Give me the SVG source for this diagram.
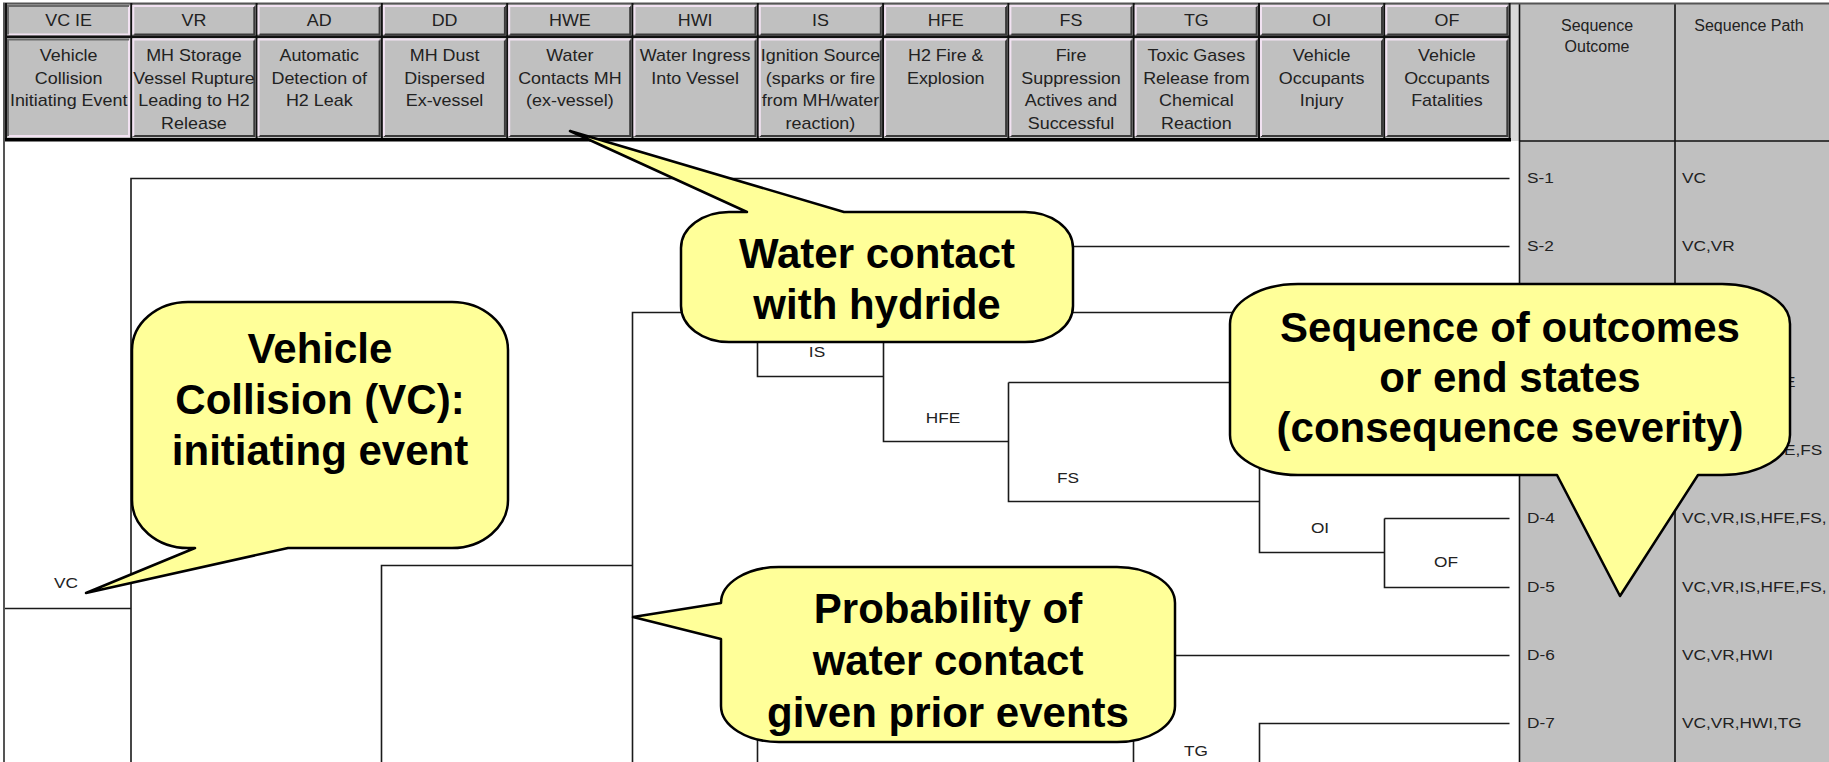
<svg xmlns="http://www.w3.org/2000/svg" xmlns:xlink="http://www.w3.org/1999/xlink" width="1829" height="762" viewBox="0 0 1829 762">
<defs>
<style>
.hdr{font-family:"Liberation Sans",Arial,sans-serif;font-size:16px;fill:#222;text-anchor:middle}
.sm{font-family:"Liberation Sans",Arial,sans-serif;font-size:15px;fill:#222}
.mid{text-anchor:middle}
.co{fill:#ffff99;stroke:#000;stroke-width:2.5;stroke-linejoin:round}
.ct{font-family:"Liberation Sans",Arial,sans-serif;font-size:42px;font-weight:bold;fill:#000;text-anchor:middle}
.br{fill:none;stroke:#1a1a1a;stroke-width:1.6}
.hl{fill:none;stroke:#f2e2f2;stroke-width:2}
.sh{fill:none;stroke:#3a3a3a;stroke-width:2}
.dk{fill:none;stroke:#6a6a6a;stroke-width:2}
.lt{fill:none;stroke:#f2e2f2;stroke-width:2}
.sep{fill:#111}
</style>
<g id="cellbev">
<rect class="sep" x="-1" y="3" width="2" height="137"/>
<path class="sh" d="M2,34.5 H123 V6"/>
<path class="hl" d="M2,34.5 V6 H123"/>
<rect class="sep" x="0" y="35.5" width="125.3" height="2.5"/>
<path class="sh" d="M2,136 H123 V39.5"/>
<path class="hl" d="M2,136 V39.5 H123"/>
</g>
<g id="cellinv">
<rect class="sep" x="-1" y="3" width="2" height="137"/>
<path class="lt" d="M2,34.5 H123 V6"/>
<path class="dk" d="M2,34.5 V6 H123"/>
<rect class="sep" x="0" y="35.5" width="125.3" height="2.5"/>
<path class="lt" d="M2,136 H123 V39.5"/>
<path class="dk" d="M2,136 V39.5 H123"/>
</g>
</defs>

<rect x="0" y="0" width="1829" height="762" fill="#ffffff"/>

<!-- right table -->
<g id="table">
<rect x="1519" y="3" width="310" height="759" fill="#c0c0c0"/>
<rect x="1510" y="3" width="9" height="138" fill="#d8d8d8"/>
<line x1="1519.5" y1="3" x2="1519.5" y2="762" stroke="#111" stroke-width="1.6"/>
<line x1="1675" y1="3" x2="1675" y2="762" stroke="#111" stroke-width="1.6"/>
<line x1="1519" y1="141" x2="1829" y2="141" stroke="#111" stroke-width="1.6"/>
<text class="hdr" x="1597" y="31">Sequence</text>
<text class="hdr" x="1597" y="52">Outcome</text>
<text class="hdr" x="1749" y="31">Sequence Path</text>
<g transform="translate(1527,0) scale(1.15,1)">
<text class="sm" x="0" y="183.5">S-1</text>
<text class="sm" x="0" y="251.5">S-2</text>
<text class="sm" x="0" y="523.5">D-4</text>
<text class="sm" x="0" y="592.5">D-5</text>
<text class="sm" x="0" y="660.5">D-6</text>
<text class="sm" x="0" y="728.5">D-7</text>
</g>
<g transform="translate(1682,0) scale(1.15,1)">
<text class="sm" x="0" y="183.5">VC</text>
<text class="sm" x="0" y="251.5">VC,VR</text>
<text class="sm" x="0" y="523.5">VC,VR,IS,HFE,FS,</text>
<text class="sm" x="0" y="592.5">VC,VR,IS,HFE,FS,</text>
<text class="sm" x="0" y="660.5">VC,VR,HWI</text>
<text class="sm" x="0" y="728.5">VC,VR,HWI,TG</text>
</g>
<g transform="translate(1784,0) scale(1.15,1)">
<text class="sm" x="0" y="387.5">E</text>
<text class="sm" x="0" y="455.5">E,FS</text>
</g>
</g>

<!-- header -->
<g id="header">
<rect x="3" y="3" width="1507" height="137" fill="#c0c0c0"/>
<line x1="3" y1="3.5" x2="1829" y2="3.5" stroke="#555" stroke-width="2"/>
<g id="col-VCIE"><use xlink:href="#cellinv" x="6"/>
<g transform="translate(68.65,0) scale(1.12,1)"><text class="hdr" y="26.5">VC IE</text><text class="hdr" y="61.5">Vehicle</text><text class="hdr" y="84">Collision</text><text class="hdr" y="106.5">Initiating Event</text></g></g>
<g id="col-VR"><use xlink:href="#cellbev" x="131.3"/>
<g transform="translate(193.95,0) scale(1.12,1)"><text class="hdr" y="26.5">VR</text><text class="hdr" y="61.5">MH Storage</text><text class="hdr" y="84">Vessel Rupture</text><text class="hdr" y="106.5">Leading to H2</text><text class="hdr" y="129">Release</text></g></g>
<g id="col-AD"><use xlink:href="#cellbev" x="256.6"/>
<g transform="translate(319.25,0) scale(1.12,1)"><text class="hdr" y="26.5">AD</text><text class="hdr" y="61.5">Automatic</text><text class="hdr" y="84">Detection of</text><text class="hdr" y="106.5">H2 Leak</text></g></g>
<g id="col-DD"><use xlink:href="#cellbev" x="381.9"/>
<g transform="translate(444.55,0) scale(1.12,1)"><text class="hdr" y="26.5">DD</text><text class="hdr" y="61.5">MH Dust</text><text class="hdr" y="84">Dispersed</text><text class="hdr" y="106.5">Ex-vessel</text></g></g>
<g id="col-HWE"><use xlink:href="#cellbev" x="507.2"/>
<g transform="translate(569.85,0) scale(1.12,1)"><text class="hdr" y="26.5">HWE</text><text class="hdr" y="61.5">Water</text><text class="hdr" y="84">Contacts MH</text><text class="hdr" y="106.5">(ex-vessel)</text></g></g>
<g id="col-HWI"><use xlink:href="#cellbev" x="632.5"/>
<g transform="translate(695.15,0) scale(1.12,1)"><text class="hdr" y="26.5">HWI</text><text class="hdr" y="61.5">Water Ingress</text><text class="hdr" y="84">Into Vessel</text></g></g>
<g id="col-IS"><use xlink:href="#cellbev" x="757.8"/>
<g transform="translate(820.45,0) scale(1.12,1)"><text class="hdr" y="26.5">IS</text><text class="hdr" y="61.5">Ignition Source</text><text class="hdr" y="84">(sparks or fire</text><text class="hdr" y="106.5">from MH/water</text><text class="hdr" y="129">reaction)</text></g></g>
<g id="col-HFE"><use xlink:href="#cellbev" x="883.1"/>
<g transform="translate(945.75,0) scale(1.12,1)"><text class="hdr" y="26.5">HFE</text><text class="hdr" y="61.5">H2 Fire &amp;</text><text class="hdr" y="84">Explosion</text></g></g>
<g id="col-FS"><use xlink:href="#cellbev" x="1008.4"/>
<g transform="translate(1071.05,0) scale(1.12,1)"><text class="hdr" y="26.5">FS</text><text class="hdr" y="61.5">Fire</text><text class="hdr" y="84">Suppression</text><text class="hdr" y="106.5">Actives and</text><text class="hdr" y="129">Successful</text></g></g>
<g id="col-TG"><use xlink:href="#cellbev" x="1133.7"/>
<g transform="translate(1196.35,0) scale(1.12,1)"><text class="hdr" y="26.5">TG</text><text class="hdr" y="61.5">Toxic Gases</text><text class="hdr" y="84">Release from</text><text class="hdr" y="106.5">Chemical</text><text class="hdr" y="129">Reaction</text></g></g>
<g id="col-OI"><use xlink:href="#cellbev" x="1259"/>
<g transform="translate(1321.65,0) scale(1.12,1)"><text class="hdr" y="26.5">OI</text><text class="hdr" y="61.5">Vehicle</text><text class="hdr" y="84">Occupants</text><text class="hdr" y="106.5">Injury</text></g></g>
<g id="col-OF"><use xlink:href="#cellbev" x="1384.3"/>
<g transform="translate(1446.95,0) scale(1.12,1)"><text class="hdr" y="26.5">OF</text><text class="hdr" y="61.5">Vehicle</text><text class="hdr" y="84">Occupants</text><text class="hdr" y="106.5">Fatalities</text></g></g>
<rect class="sep" x="1508.6" y="3" width="2" height="137"/>
<rect x="3" y="138" width="1508" height="3.5" fill="#000"/>
<line x1="4" y1="3" x2="4" y2="762" stroke="#555" stroke-width="2"/>
</g>

<!-- event tree connectors -->
<g id="connectors" class="br">
<path d="M5,608.5 H131"/>
<path d="M131,762 V178.5 H1509.5"/>
<path d="M381.5,762 V565.5 H632.5"/>
<path d="M632.5,762 V312.5 H757.5"/>
<path d="M757.5,246.5 V376.5 H883.5"/>
<path d="M757.5,246.5 H1509.5"/>
<path d="M883.5,312.5 V441.5 H1008.5"/>
<path d="M883.5,312.5 H1509.5"/>
<path d="M1008.5,382.5 V501.5 H1259.5"/>
<path d="M1008.5,382.5 H1509.5"/>
<path d="M1259.5,450.5 V552.5 H1384.5"/>
<path d="M1259.5,450.5 H1509.5"/>
<path d="M1384.5,518.5 V587.5 H1509.5"/>
<path d="M1384.5,518.5 H1509.5"/>
<path d="M757.5,762 V715.5 H1133.5"/>
<path d="M1133.5,762 V655.5 H1509.5"/>
<path d="M1259.5,762 V723.5 H1509.5"/>
</g>

<!-- branch labels -->
<g id="labels">
<g transform="translate(66,0) scale(1.15,1)"><text class="sm mid" y="588.5">VC</text></g>
<g transform="translate(817,0) scale(1.15,1)"><text class="sm mid" y="357.5">IS</text></g>
<g transform="translate(943,0) scale(1.15,1)"><text class="sm mid" y="423.5">HFE</text></g>
<g transform="translate(1068,0) scale(1.15,1)"><text class="sm mid" y="483.5">FS</text></g>
<g transform="translate(1320,0) scale(1.15,1)"><text class="sm mid" y="533.5">OI</text></g>
<g transform="translate(1446,0) scale(1.15,1)"><text class="sm mid" y="567.5">OF</text></g>
<g transform="translate(1196,0) scale(1.15,1)"><text class="sm mid" y="756.5">TG</text></g>
</g>

<!-- callouts -->
<g id="callout-vc">
<path class="co" d="M188,302 H452 A56,48 0 0 1 508,350 V500 A56,48 0 0 1 452,548 H288 L86,593 L195,548 H188 A56,48 0 0 1 132,500 V350 A56,48 0 0 1 188,302 Z"/>
<text class="ct" x="320" y="363">Vehicle</text>
<text class="ct" x="320" y="414">Collision (VC):</text>
<text class="ct" x="320" y="465">initiating event</text>
</g>
<g id="callout-water">
<path class="co" d="M729,212 H747 L570,131 L844,212 H1025 A48,36 0 0 1 1073,248 V306 A48,36 0 0 1 1025,342 H729 A48,36 0 0 1 681,306 V248 A48,36 0 0 1 729,212 Z"/>
<text class="ct" x="877" y="268">Water contact</text>
<text class="ct" x="877" y="319">with hydride</text>
</g>
<g id="callout-seq">
<path class="co" d="M1298,284 H1722 A68,40 0 0 1 1790,324 V435 A68,40 0 0 1 1722,475 H1698 L1620,596 L1557,475 H1298 A68,40 0 0 1 1230,435 V324 A68,40 0 0 1 1298,284 Z"/>
<text class="ct" x="1510" y="342">Sequence of outcomes</text>
<text class="ct" x="1510" y="392">or end states</text>
<text class="ct" x="1510" y="442">(consequence severity)</text>
</g>
<g id="callout-prob">
<path class="co" d="M779,567 H1117 A58,36 0 0 1 1175,603 V706 A58,36 0 0 1 1117,742 H779 A58,36 0 0 1 721,706 V639 L633,617 L721,603 A58,36 0 0 1 779,567 Z"/>
<text class="ct" x="948" y="623">Probability of</text>
<text class="ct" x="948" y="675">water contact</text>
<text class="ct" x="948" y="727">given prior events</text>
</g>
</svg>
